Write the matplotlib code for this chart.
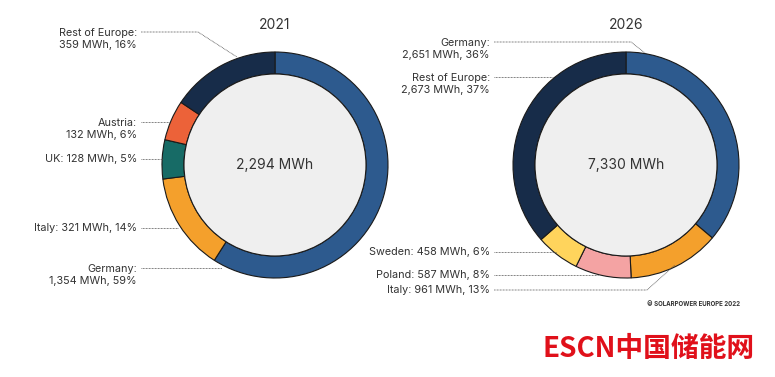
import matplotlib
matplotlib.use("Agg")
import matplotlib.pyplot as plt
from matplotlib.patches import Circle
import numpy as np

# ---- data ----
years = ["2021", "2026"]
cats_2021 = ["Germany", "Italy", "UK", "Austria", "Rest of Europe"]
vals_2021 = [1354, 321, 128, 132, 359]
pcts_2021 = [59, 14, 5, 6, 16]
cats_2026 = ["Germany", "Italy", "Poland", "Sweden", "Rest of Europe"]
vals_2026 = [2651, 961, 587, 458, 2673]
pcts_2026 = [36, 13, 8, 6, 37]
totals = ["2,294 MWh", "7,330 MWh"]

colors_2021 = ["#2D5A8E", "#F4A02C", "#176B66", "#EC6239", "#172C49"]
colors_2026 = ["#2D5A8E", "#F4A02C", "#F4A3A3", "#FFD45C", "#172C49"]

W, H = 775, 377
plt.rcParams['font.family'] = ['Inter', 'DejaVu Sans']
fig = plt.figure(figsize=(W / 100, H / 100), dpi=100)
ax = fig.add_axes([0, 0, 1, 1])

def Y(y):
    return H - y

R, RW = 113, 22
centers = [(275, 165), (626, 165)]
datasets = [(vals_2021, colors_2021), (vals_2026, colors_2026)]
edge = "#1a1a1a"
for (cx, cy), (vals, cols), yr, tot in zip(centers, datasets, years, totals):
    ax.pie(vals, colors=cols, center=(cx, Y(cy)), radius=R, startangle=90,
           counterclock=False, frame=True,
           wedgeprops=dict(width=RW, edgecolor=edge, linewidth=0.8))
    ax.add_patch(Circle((cx, Y(cy)), R - RW, facecolor="#EFEFEF", edgecolor=edge,
                        linewidth=0.8, zorder=3))
    ax.text(cx, Y(cy), tot, ha="center", va="center", fontsize=10, color="#333333", zorder=4)
    ax.text(cx, Y(25), yr, ha="center", va="center", fontsize=10, color="#333333")

fs = 7.8
tc = "#333333"
lc = "#555555"

def label(x, y, lines, pts):
    ax.text(x, Y(y), lines, ha="right", va="center", fontsize=fs, color=tc, linespacing=1.3)
    xs = [p[0] for p in pts]
    ys = [Y(p[1]) for p in pts]
    ax.plot(xs, ys, color=lc, lw=0.6, ls=(0, (1, 0.8)), zorder=5)

def lab(c, v, p, two):
    if two:
        return f"{c}:\n{v:,} MWh, {p}%"
    return f"{c}: {v:,} MWh, {p}%"

# 2021 labels (y = centre of the text block)
lx = 137
label(lx, 39, lab(cats_2021[4], vals_2021[4], pcts_2021[4], True), [(141, 32), (198, 32), (237, 57)])
label(lx, 129, lab(cats_2021[3], vals_2021[3], pcts_2021[3], True), [(141, 122), (169, 122)])
label(lx, 159, lab(cats_2021[2], vals_2021[2], pcts_2021[2], False), [(141, 159), (163, 159)])
label(lx, 228, lab(cats_2021[1], vals_2021[1], pcts_2021[1], False), [(141, 228), (178, 228)])
label(lx, 275, lab(cats_2021[0], vals_2021[0], pcts_2021[0], True), [(141, 268), (222, 268)])

# 2026 labels
rx = 490
label(rx, 49, lab(cats_2026[0], vals_2026[0], pcts_2026[0], True), [(494, 42), (631, 42), (645, 53)])
label(rx, 84, lab(cats_2026[4], vals_2026[4], pcts_2026[4], True), [(494, 77), (553, 77)])
label(rx, 252, lab(cats_2026[3], vals_2026[3], pcts_2026[3], False), [(494, 252), (556, 252)])
label(rx, 275, lab(cats_2026[2], vals_2026[2], pcts_2026[2], False), [(494, 275), (598, 275)])
label(rx, 290, lab(cats_2026[1], vals_2026[1], pcts_2026[1], False), [(494, 290), (647, 290), (675, 265)])

ax.text(740, Y(304), "© SOLARPOWER EUROPE 2022", ha="right", va="center", fontsize=4.4,
        color="#333333", fontweight="bold")

ax.text(755, Y(349), "ESCN中国储能网", ha="right", va="center", fontsize=20,
        color="#E0101A", fontweight="bold",
        family=["Noto Sans CJK SC", "DejaVu Sans"])

ax.set_xlim(0, W)
ax.set_ylim(0, H)
ax.set_aspect("auto")
ax.axis("off")
fig.savefig("out.png", dpi=100, facecolor="white")
